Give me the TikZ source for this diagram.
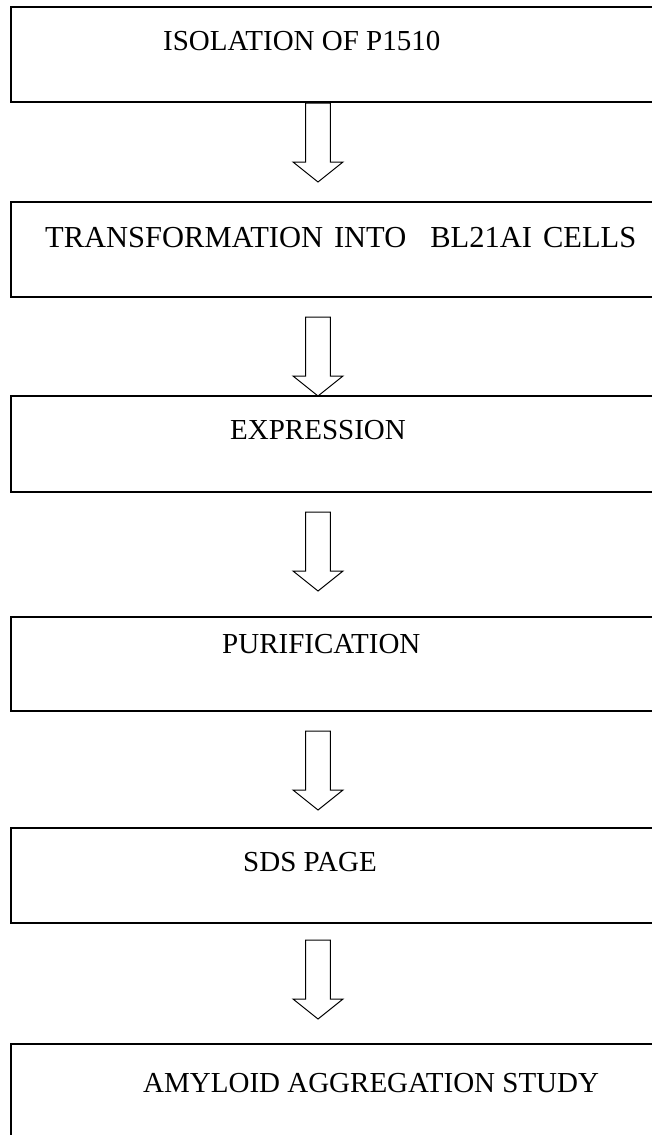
\documentclass[tikz,border=0pt]{standalone}
\usepackage{fontspec}
\setmainfont{Liberation Serif}
\begin{document}
\begin{tikzpicture}[x=1pt,y=-1pt,
  stepbox/.style={draw=black,line width=1.6pt,minimum width=650pt,anchor=north west,inner sep=0pt,outer sep=0pt},
  steptext/.style={anchor=base west,inner sep=0pt,font=\fontsize{29}{34}\selectfont},
  blockarrow/.pic={\draw[line width=1pt,line join=miter] (-12.4,0) -- (-12.4,59) -- (-25,59) -- (0,79) -- (25,59) -- (12.4,59) -- (12.4,0) -- cycle;}]
\useasboundingbox (0,0) rectangle (651,1135);
% boxes
\node[stepbox,minimum height=95pt] (b1) at (11,7) {};
\node[stepbox,minimum height=95pt] (b2) at (11,202) {};
\node[stepbox,minimum height=96pt] (b3) at (11,396) {};
\node[stepbox,minimum height=94pt] (b4) at (11,617) {};
\node[stepbox,minimum height=95pt] (b5) at (11,828) {};
\node[stepbox,minimum height=120pt] (b6) at (11,1044) {};
% texts
\node[steptext] (t1) at (163,50) {ISOLATION OF P1510};
\node[steptext,font=\fontsize{30.5}{35}\selectfont] (t2) at (45,247) {TRANSFORMATION\hspace{11pt}INTO\hspace{24pt}BL21AI\hspace{11pt}CELLS};
\node[steptext] (t3) at (230,439) {EXPRESSION};
\node[steptext] (t4) at (222,653) {PURIFICATION};
\node[steptext] (t5) at (243,871) {SDS PAGE};
\node[steptext] (t6) at (143,1092) {AMYLOID AGGREGATION STUDY};
% arrows
\pic at (318,103) {blockarrow};
\pic at (318,317) {blockarrow};
\pic at (318,512) {blockarrow};
\pic at (318,731) {blockarrow};
\pic at (318,940) {blockarrow};
\end{tikzpicture}
\end{document}
